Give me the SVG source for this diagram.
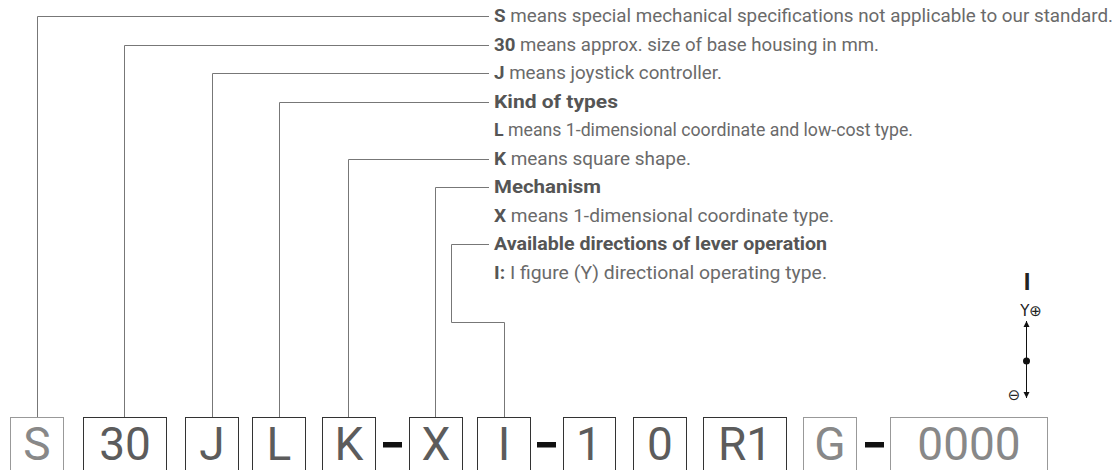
<svg xmlns="http://www.w3.org/2000/svg" width="1119" height="470" viewBox="0 0 1119 470">
<style>
.lead{fill:none;stroke:#777;stroke-width:1}
.bd{fill:none;stroke:#333;stroke-width:1}
.bg{fill:none;stroke:#999;stroke-width:1}
.txt{font-family:Roboto,"Liberation Sans",sans-serif;font-size:18px;fill:#6a6a6a}
.b{font-weight:bold;fill:#555}
.big{font-family:Roboto,"Liberation Sans",sans-serif;font-size:46px;text-anchor:middle}
.dk{fill:#5c5c5c}
.lt{fill:#888}
.dash{fill:#111}
.sym{font-family:"DejaVu Sans",sans-serif;font-size:15px;fill:#222;text-anchor:middle}
</style>
<defs>
<marker id="ah" viewBox="0 0 10 10" refX="10" refY="5" markerWidth="6" markerHeight="8" markerUnits="userSpaceOnUse" orient="auto">
<path d="M0,0 L10,5 L0,10 z" fill="#111"/>
</marker>
</defs>
<g id="connectors">
<path class="lead" d="M37.5,417 V16.5 H489"/>
<path class="lead" d="M124.5,417 V45.5 H489"/>
<path class="lead" d="M212.5,417 V73.5 H489"/>
<path class="lead" d="M279.5,417 V102.5 H489"/>
<path class="lead" d="M348.5,417 V159.5 H489"/>
<path class="lead" d="M435.5,417 V187.5 H489"/>
<path class="lead" d="M504.5,417 V322.5 H451.5 V244.5 H489"/>
</g>
<g id="descriptions" class="txt">
<text x="494" y="22" textLength="619" lengthAdjust="spacingAndGlyphs"><tspan class="b">S</tspan> means special mechanical specifications not applicable to our standard.</text>
<text x="494" y="51" textLength="385" lengthAdjust="spacingAndGlyphs"><tspan class="b">30</tspan> means approx. size of base housing in mm.</text>
<text x="494" y="79" textLength="228" lengthAdjust="spacingAndGlyphs"><tspan class="b">J</tspan> means joystick controller.</text>
<text x="494" y="108" class="b" textLength="124" lengthAdjust="spacingAndGlyphs">Kind of types</text>
<text x="494" y="136" textLength="419" lengthAdjust="spacingAndGlyphs"><tspan class="b">L</tspan> means 1-dimensional coordinate and low-cost type.</text>
<text x="494" y="165" textLength="197" lengthAdjust="spacingAndGlyphs"><tspan class="b">K</tspan> means square shape.</text>
<text x="494" y="193" class="b" textLength="107" lengthAdjust="spacingAndGlyphs">Mechanism</text>
<text x="494" y="222" textLength="340" lengthAdjust="spacingAndGlyphs"><tspan class="b">X</tspan> means 1-dimensional coordinate type.</text>
<text x="494" y="250" class="b" textLength="333" lengthAdjust="spacingAndGlyphs">Available directions of lever operation</text>
<text x="494" y="279" textLength="333" lengthAdjust="spacingAndGlyphs"><tspan class="b">I:</tspan> I figure (Y) directional operating type.</text>
</g>
<g id="node-S"><rect class="bg" x="10.5" y="417.5" width="53" height="60"/><text class="big lt" x="37" y="460">S</text></g>
<g id="node-30"><rect class="bd" x="83.5" y="417.5" width="83" height="60"/><text class="big dk" x="125" y="460">30</text></g>
<g id="node-J"><rect class="bd" x="185.5" y="417.5" width="53" height="60"/><text class="big dk" x="212" y="460">J</text></g>
<g id="node-L"><rect class="bd" x="252.5" y="417.5" width="53" height="60"/><text class="big dk" x="279" y="460">L</text></g>
<g id="node-K"><rect class="bd" x="322.5" y="417.5" width="53" height="60"/><text class="big dk" x="349" y="460">K</text></g>
<rect class="dash" x="383" y="442" width="19" height="5.5"/>
<g id="node-X"><rect class="bd" x="409.5" y="417.5" width="53" height="60"/><text class="big dk" x="436" y="460">X</text></g>
<g id="node-I"><rect class="bd" x="477.5" y="417.5" width="53" height="60"/><text class="big dk" x="504" y="460">I</text></g>
<rect class="dash" x="537" y="442" width="19" height="5.5"/>
<g id="node-1"><rect class="bd" x="563.5" y="417.5" width="52" height="60"/><text class="big dk" x="589" y="460">1</text></g>
<g id="node-0"><rect class="bd" x="633.5" y="417.5" width="53" height="60"/><text class="big dk" x="660" y="460">0</text></g>
<g id="node-R1"><rect class="bd" x="703.5" y="417.5" width="83" height="60"/><text class="big dk" x="745" y="460">R1</text></g>
<g id="node-G"><rect class="bg" x="803.5" y="417.5" width="53" height="60"/><text class="big lt" x="830" y="460">G</text></g>
<rect class="dash" x="865" y="442" width="19" height="5.5"/>
<g id="node-0000"><rect class="bg" x="890.5" y="417.5" width="157" height="60"/><text class="big lt" x="969" y="460">0000</text></g>
<g id="direction-symbol">
<text x="1027" y="290" font-family="'Liberation Sans',sans-serif" font-size="24" font-weight="bold" fill="#222" text-anchor="middle">I</text>
<text class="sym" x="1031" y="316">Y⊕</text>
<line x1="1026.5" y1="361" x2="1026.5" y2="321" stroke="#111" stroke-width="1" marker-end="url(#ah)"/>
<line x1="1026.5" y1="361" x2="1026.5" y2="398" stroke="#111" stroke-width="1" marker-end="url(#ah)"/>
<circle cx="1026.5" cy="361" r="3.5" fill="#111"/>
<text class="sym" x="1014" y="400">⊖</text>
</g>
</svg>
